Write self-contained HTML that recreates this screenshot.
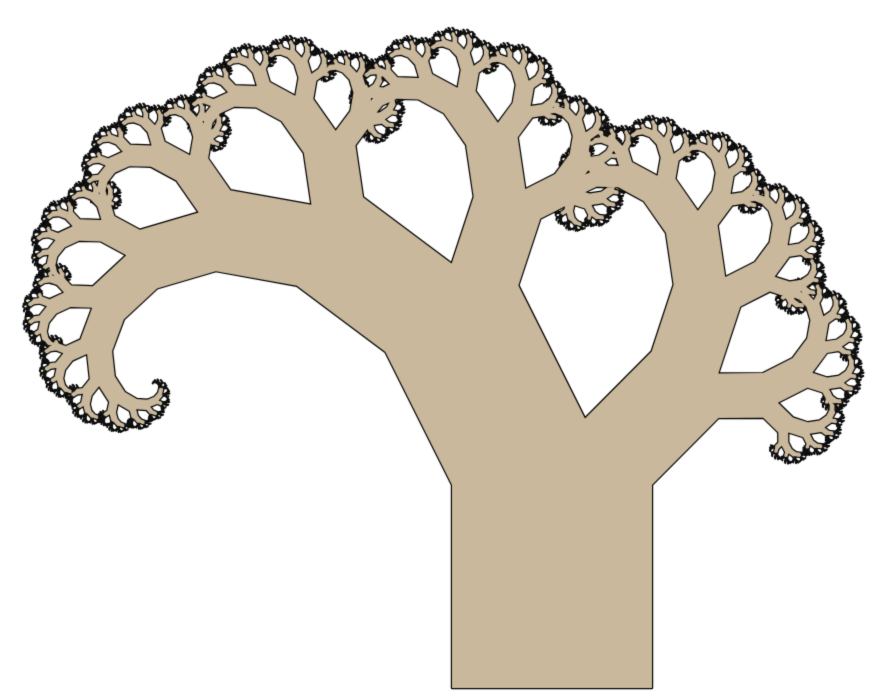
<!DOCTYPE html>
<html><head><meta charset="utf-8"><style>
html,body{margin:0;padding:0;background:#fff;}
canvas{display:block;}
</style></head>
<body>
<canvas id="tree" width="883" height="695"></canvas>
<script>
// Tree parameters: trunk base corners and apex position (fraction along base, fraction of height)
const trunkBase = [452, 688, 652, 688];
const trunkHeight = [203];
const apexRatio = [0.665, 0.333];
const minSize = [0.6];
const darkSize = [3.2];

const cv = document.getElementById('tree');
const ctx = cv.getContext('2d');
const polys = [];
const dark = [];

function rec(ax, ay, bx, by, hScale) {
  const ux = bx - ax, uy = by - ay;
  const len = Math.hypot(ux, uy);
  if (len < minSize[0]) return;
  let nx = uy * hScale, ny = -ux * hScale;
  const tlx = ax + nx, tly = ay + ny, trx = bx + nx, try_ = by + ny;
  const px = tlx + apexRatio[0] * ux + apexRatio[1] * uy;
  const py = tly + apexRatio[0] * uy - apexRatio[1] * ux;
  const target = len < darkSize[0] ? dark : polys;
  target.push([ax, ay, bx, by, trx, try_, tlx, tly]);
  target.push([tlx, tly, trx, try_, px, py]);
  rec(tlx, tly, px, py, 1);
  rec(px, py, trx, try_, 1);
}
rec(trunkBase[0], trunkBase[1], trunkBase[2], trunkBase[3], trunkHeight[0] / (trunkBase[2] - trunkBase[0]));

function pathAll(list) {
  ctx.beginPath();
  for (const p of list) {
    ctx.moveTo(p[0], p[1]);
    for (let i = 2; i < p.length; i += 2) ctx.lineTo(p[i], p[i + 1]);
    ctx.closePath();
  }
}
ctx.fillStyle = '#fff';
ctx.fillRect(0, 0, 883, 695);
ctx.lineJoin = 'round';
ctx.strokeStyle = '#000';
pathAll(polys);
ctx.lineWidth = 2.4;
ctx.stroke();
pathAll(dark);
ctx.lineWidth = 1.2;
ctx.stroke();
ctx.fillStyle = '#111';
ctx.fill('nonzero');
pathAll(polys);
ctx.fillStyle = '#c9b89c';
ctx.fill('nonzero');
</script>
</body></html>
